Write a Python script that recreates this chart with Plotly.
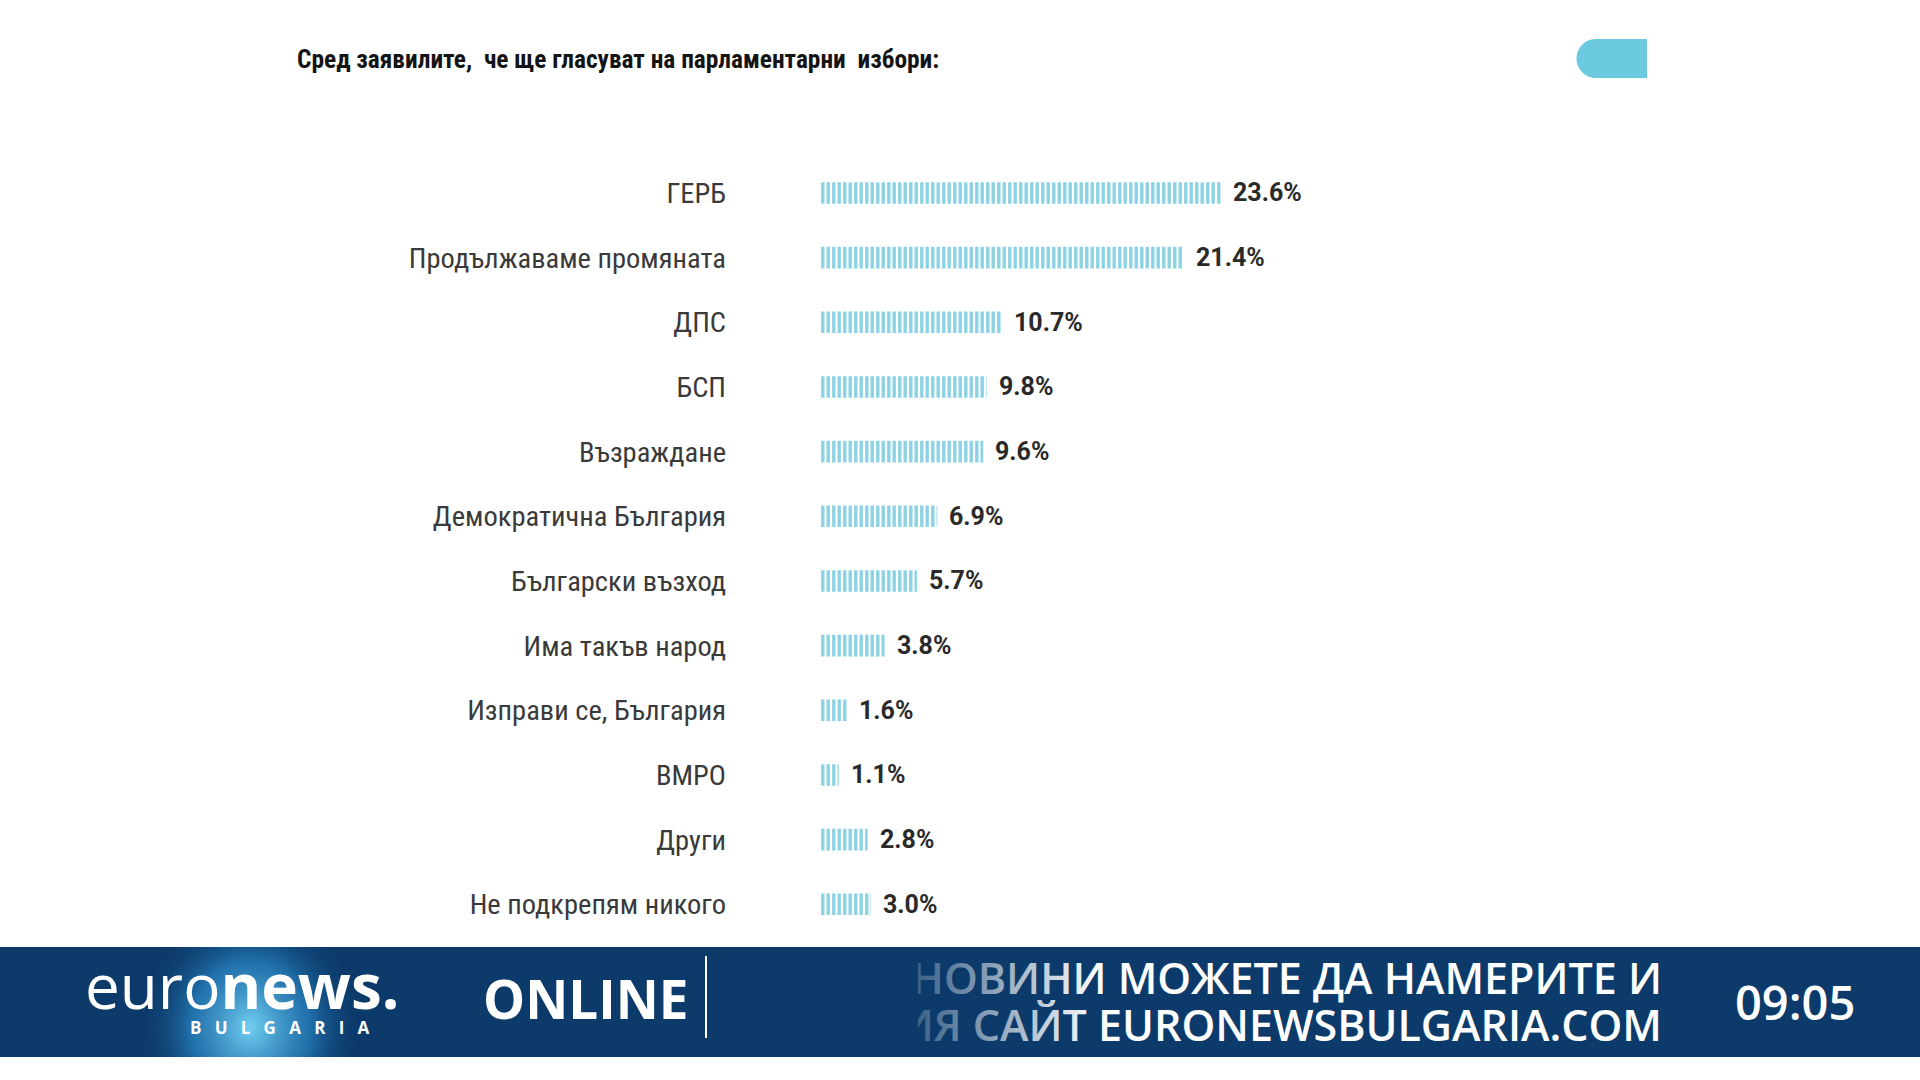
import plotly.graph_objects as go

# poll data
parties = [
    "ГЕРБ", "Продължаваме промяната", "ДПС", "БСП", "Възраждане",
    "Демократична България", "Български възход", "Има такъв народ",
    "Изправи се, България", "ВМРО", "Други", "Не подкрепям никого",
]
shares = [23.6, 21.4, 10.7, 9.8, 9.6, 6.9, 5.7, 3.8, 1.6, 1.1, 2.8, 3.0]

title_text = "Сред заявилите,\u00a0 че ще гласуват на парламентарни\u00a0 избори:"
ticker_lines = ["НОВИНИ МОЖЕТЕ ДА НАМЕРИТЕ И", "НАШИЯ САЙТ EURONEWSBULGARIA.COM"]
clock_text = "09:05"

W, H = 1920, 1080
STRIPE = "#0fa3c6"
NAVY = "#0c3b6b"
PILL = "#6ccae0"

fig = go.Figure()

fig.add_trace(go.Bar(
    x=shares,
    y=parties,
    orientation="h",
    marker=dict(
        color="white",
        line_width=0,
        pattern=dict(shape="|", fgcolor=STRIPE, bgcolor="white", size=5.5, solidity=0.6),
    ),
    hoverinfo="skip",
    showlegend=False,
))

for p, v in zip(parties, shares):
    fig.add_annotation(
        x=v, y=p, xref="x", yref="y", text=f"{v:.1f}%",
        xanchor="left", xshift=10, showarrow=False,
        font=dict(family="Roboto", size=25, color="#2a2a2a", weight="bold"),
    )

# banner glow behind logo (clipped to the banner band)
fig.add_trace(go.Scatter(
    x=[140, 360, 360, 140, 140], y=[905, 905, 1150, 1150, 905],
    fill="toself", mode="none",
    fillgradient=dict(type="radial", colorscale=[
        [0, "rgba(120,215,248,0.95)"], [0.55, "rgba(45,145,210,0.6)"], [1, "rgba(12,59,107,0)"]]),
    xaxis="x3", yaxis="y3", hoverinfo="skip", showlegend=False,
))

# scrolling ticker text, clipped to its window
fig.add_trace(go.Scatter(
    x=[1662, 1662], y=[983, 1030], mode="text", text=ticker_lines,
    textposition="middle left",
    textfont=dict(family="Open Sans", size=43, color="white", weight=600),
    xaxis="x4", yaxis="y4", cliponaxis=True, hoverinfo="skip", showlegend=False,
))
fig.add_trace(go.Scatter(
    x=[918, 1100, 1100, 918, 918], y=[947, 947, 1057, 1057, 947],
    fill="toself", mode="none",
    fillgradient=dict(type="horizontal", colorscale=[[0, "rgba(12,59,107,0.8)"], [1, "rgba(12,59,107,0)"]]),
    xaxis="x4", yaxis="y4", hoverinfo="skip", showlegend=False,
))

fig.add_shape(type="rect", xref="x2", yref="y2", x0=0, x1=W, y0=947, y1=1057,
              fillcolor=NAVY, line_width=0, layer="below")
fig.add_shape(type="line", xref="x2", yref="y2", x0=706, x1=706, y0=956, y1=1038,
              line=dict(color="white", width=2))
fig.add_shape(type="path", xref="x2", yref="y2",
              path="M 1647 39 L 1596 39 C 1585.2 39 1576.5 47.7 1576.5 58.5 "
                   "C 1576.5 69.3 1585.2 78 1596 78 L 1647 78 Z",
              fillcolor=PILL, line_width=0)

fig.add_annotation(x=295, y=59, xref="x2", yref="y2", text=title_text,
                   xanchor="left", yanchor="middle", showarrow=False,
                   font=dict(family="Roboto Condensed, Roboto", size=25.4, color="#141414", weight="bold"))

fig.add_annotation(x=83, y=985, xref="x2", yref="y2", text="euro<b>news.</b>",
                   xanchor="left", yanchor="middle", showarrow=False,
                   font=dict(family="Open Sans", size=62, color="white"))
fig.add_annotation(x=280, y=1027, xref="x2", yref="y2",
                   text="\u00a0\u00a0\u00a0".join("BULGARIA"),
                   xanchor="center", yanchor="middle", showarrow=False,
                   font=dict(family="Open Sans", size=17, color="white", weight="bold"))
fig.add_annotation(x=586, y=998, xref="x2", yref="y2", text="ONLINE",
                   xanchor="center", yanchor="middle", showarrow=False,
                   font=dict(family="Open Sans", size=53, color="white", weight="bold"))
fig.add_annotation(x=1795, y=1002, xref="x2", yref="y2", text=clock_text,
                   xanchor="center", yanchor="middle", showarrow=False,
                   font=dict(family="Open Sans", size=47, color="white", weight=600))

fig.update_layout(
    width=W, height=H,
    margin=dict(l=0, r=0, t=0, b=0),
    paper_bgcolor="white",
    plot_bgcolor="rgba(0,0,0,0)",
    bargap=0.666,
    xaxis=dict(domain=[820 / W, 1670 / W], range=[0, 50], visible=False, fixedrange=True),
    yaxis=dict(
        domain=[1 - 936.6 / H, 1 - 160.6 / H],
        categoryorder="array", categoryarray=parties, autorange="reversed",
        showgrid=False, zeroline=False, showline=False, ticks="",
        ticklabelstandoff=93,
        tickfont=dict(family="Roboto Condensed, Roboto", size=28.5, color="#3a3a3a"),
        fixedrange=True,
    ),
    xaxis2=dict(domain=[0, 1], range=[0, W], visible=False, anchor="y2", fixedrange=True),
    yaxis2=dict(domain=[0, 1], range=[H, 0], visible=False, anchor="x2", fixedrange=True),
    xaxis3=dict(domain=[0, 1], range=[0, W], visible=False, anchor="y3", fixedrange=True),
    yaxis3=dict(domain=[1 - 1057 / H, 1 - 947 / H], range=[1057, 947], visible=False, anchor="x3", fixedrange=True),
    xaxis4=dict(domain=[918 / W, 1672 / W], range=[918, 1672], visible=False, anchor="y4", fixedrange=True),
    yaxis4=dict(domain=[1 - 1057 / H, 1 - 947 / H], range=[1057, 947], visible=False, anchor="x4", fixedrange=True),
)

fig.write_html("out.html", config={"displayModeBar": False},
               post_script="document.body.style.margin='0';")
